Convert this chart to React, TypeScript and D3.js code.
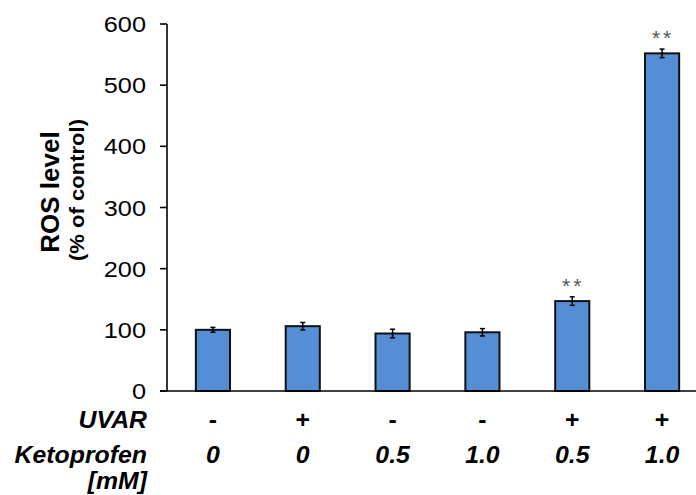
import React from "react";
import * as d3 from "d3";

const groups = ["g1", "g2", "g3", "g4", "g5", "g6"];
const rosValues = [100, 106, 94, 96, 147, 552];
const rosErrors = [4, 6, 7, 6, 7, 7];
const significance = ["", "", "", "", "**", "**"];
const uvarLabels = ["-", "+", "-", "-", "+", "+"];
const ketoLabels = ["0", "0", "0.5", "1.0", "0.5", "1.0"];
const yTicks = [0, 100, 200, 300, 400, 500, 600];

export default function App() {
  const W = 696;
  const H = 495;
  const y = d3.scaleLinear().domain([0, 600]).range([391, 24]);
  const x = d3.scaleBand<string>().domain(groups).range([168, 707]).paddingInner(0.62).paddingOuter(0.31);
  const bw = x.bandwidth();
  const font = "'Liberation Sans', Arial, sans-serif";
  const axisX = 167;

  const stretched = (tx: number, ty: number, sx: number, content: React.ReactNode, key?: string) => (
    <g key={key} transform={`translate(${tx},${ty}) scale(${sx},1)`}>{content}</g>
  );

  return (
    <svg width={W} height={H} style={{ position: "absolute", left: 0, top: 0, background: "#fff" }}>
      <rect x={0} y={0} width={W} height={H} fill="#fff" />
      {/* Y axis */}
      <line x1={axisX} x2={axisX} y1={y(600)} y2={y(0)} stroke="#000" strokeWidth={1.6} />
      {yTicks.map((t) => (
        <g key={t}>
          <line x1={160} x2={axisX} y1={y(t)} y2={y(t)} stroke="#000" strokeWidth={1.6} />
          {stretched(
            146,
            y(t) + 8,
            1.15,
            <text x={0} y={0} textAnchor="end" fontFamily={font} fontSize={22} fill="#000">
              {t}
            </text>
          )}
        </g>
      ))}
      {/* Y label */}
      <text
        transform={`translate(59,192) rotate(-90)`}
        textAnchor="middle"
        fontFamily={font}
        fontSize={26}
        fontWeight="bold"
        fill="#000"
      >
        ROS level
      </text>
      <text
        transform={`translate(84,190) rotate(-90)`}
        textAnchor="middle"
        fontFamily={font}
        fontSize={20}
        fontWeight="bold"
        fill="#000"
        textLength={142}
        lengthAdjust="spacingAndGlyphs"
      >
        (% of control)
      </text>
      {/* Bars */}
      {groups.map((g, i) => {
        const cx = (x(g) as number) + bw / 2;
        const v = rosValues[i];
        const e = rosErrors[i];
        return (
          <g key={g}>
            <rect
              x={x(g)}
              y={y(v)}
              width={bw}
              height={y(0) - y(v)}
              fill="#558ED5"
              stroke="#111"
              strokeWidth={2}
            />
            <line x1={cx} x2={cx} y1={y(v + e)} y2={y(v - e)} stroke="#000" strokeWidth={1.5} />
            <line x1={cx - 2.5} x2={cx + 2.5} y1={y(v + e)} y2={y(v + e)} stroke="#000" strokeWidth={1.5} />
            <line x1={cx - 2.5} x2={cx + 2.5} y1={y(v - e)} y2={y(v - e)} stroke="#000" strokeWidth={1.5} />
            {significance[i] && (
              <text
                x={cx + 1}
                y={y(v + e) - 4}
                textAnchor="middle"
                fontFamily={font}
                fontSize={21}
                fill="#555"
                letterSpacing={3}
              >
                {significance[i]}
              </text>
            )}
            {stretched(
              cx,
              428,
              1.08,
              <text x={0} y={0} textAnchor="middle" fontFamily={font} fontSize={23} fontWeight="bold" fill="#000">
                {uvarLabels[i]}
              </text>
            )}
            {stretched(
              cx,
              463,
              1.08,
              <text
                x={0}
                y={0}
                textAnchor="middle"
                fontFamily={font}
                fontSize={23}
                fontWeight="bold"
                fontStyle="italic"
                fill="#000"
              >
                {ketoLabels[i]}
              </text>
            )}
          </g>
        );
      })}
      {/* X axis */}
      <line x1={160} x2={W} y1={y(0)} y2={y(0)} stroke="#000" strokeWidth={1.6} />
      {/* Row labels */}
      {stretched(
        147,
        428,
        1.08,
        <text textAnchor="end" fontFamily={font} fontSize={23} fontWeight="bold" fontStyle="italic" fill="#000">
          UVAR
        </text>
      )}
      {stretched(
        147,
        463,
        1.08,
        <text textAnchor="end" fontFamily={font} fontSize={23} fontWeight="bold" fontStyle="italic" fill="#000">
          Ketoprofen
        </text>
      )}
      {stretched(
        147,
        489,
        1.08,
        <text textAnchor="end" fontFamily={font} fontSize={23} fontWeight="bold" fontStyle="italic" fill="#000">
          [mM]
        </text>
      )}
    </svg>
  );
}
